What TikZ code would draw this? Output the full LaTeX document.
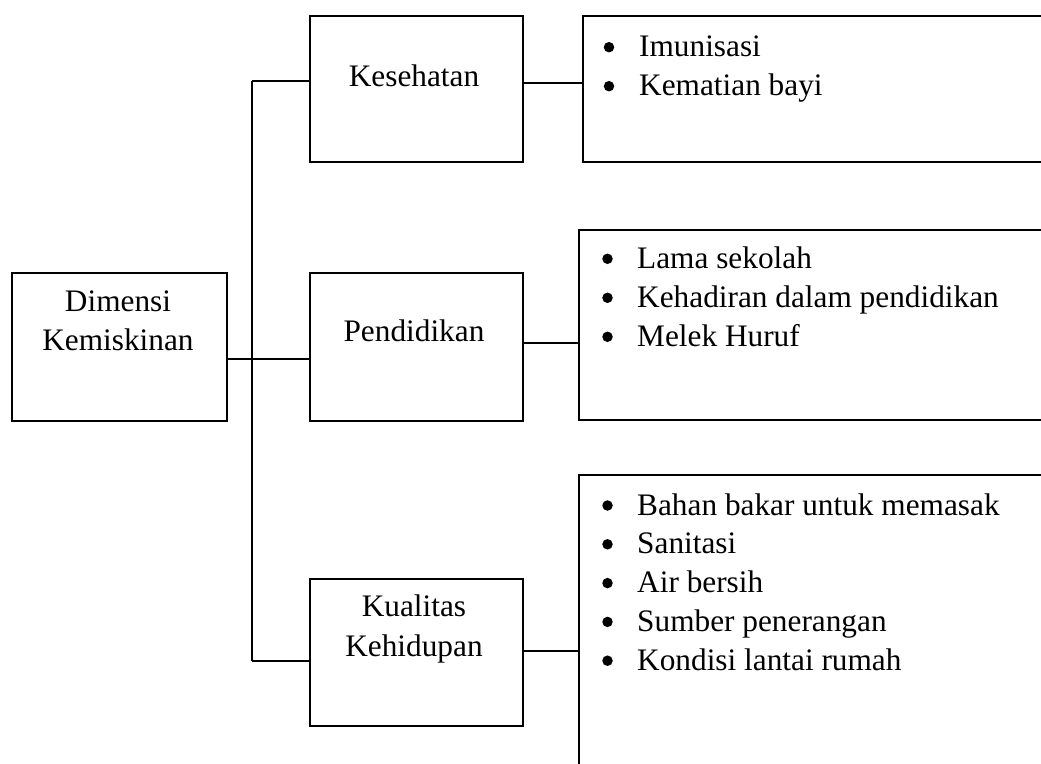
\documentclass[tikz,border=0pt]{standalone}
\usepackage{fontspec}
\setmainfont{Liberation Serif}
\begin{document}
\begin{tikzpicture}[x=1pt,y=-1pt,
  box/.style={draw, line width=1.6pt, anchor=north west, inner sep=0pt, outer sep=0pt},
  wire/.style={line width=1.4pt},
  lbl/.style={anchor=base, font=\fontsize{31.3}{38.7}\selectfont, inner sep=0pt},
  item/.style={anchor=base west, font=\fontsize{31.3}{38.7}\selectfont, inner sep=0pt},
  dot/.style={circle, fill, inner sep=0pt, minimum size=10.5pt}]
\useasboundingbox (0,0) rectangle (1041,763);
\clip (0,0) rectangle (1041,763);

% main boxes
\node[box, minimum width=215pt, minimum height=148pt] (dim) at (12,273) {};
\node[box, minimum width=213pt, minimum height=146pt] (kes) at (310,16) {};
\node[box, minimum width=213pt, minimum height=148pt] (pen) at (310,273) {};
\node[box, minimum width=213pt, minimum height=147pt] (kua) at (310,579) {};

% indicator boxes (running off the right edge)
\node[box, minimum width=480pt, minimum height=146pt] (ind1) at (583,16) {};
\node[box, minimum width=480pt, minimum height=190pt] (ind2) at (579,230) {};
\node[box, minimum width=480pt, minimum height=320pt] (ind3) at (579,475) {};

% box captions
\node[lbl] (dimA) at (118,311.7) {Dimensi};
\node[lbl] (dimB) at (118,350) {Kemiskinan};
\node[lbl] (kesA) at (414,86) {Kesehatan};
\node[lbl] (penA) at (414,341.7) {Pendidikan};
\node[lbl] (kuaA) at (414,616.7) {Kualitas};
\node[lbl] (kuaB) at (414,656) {Kehidupan};

% bullet lists
\foreach \t [count=\i] in {Imunisasi, Kematian bayi} {
  \node[item] (a\i) at (639,{56.7+(\i-1)*39}) {\t};
  \node[dot] (ad\i) at (609,{56.7+(\i-1)*39-9.5}) {};
}
\foreach \t [count=\i] in {Lama sekolah, Kehadiran dalam pendidikan, Melek Huruf} {
  \node[item] (b\i) at (637,{268.3+(\i-1)*39}) {\t};
  \node[dot] (bd\i) at (607.5,{268.3+(\i-1)*39-9.5}) {};
}
\foreach \t [count=\i] in {Bahan bakar untuk memasak, Sanitasi, Air bersih, Sumber penerangan, Kondisi lantai rumah} {
  \node[item] (c\i) at (637,{515+(\i-1)*38.8}) {\t};
  \node[dot] (cd\i) at (607.5,{515+(\i-1)*38.8-9.5}) {};
}

% trunk and branches
\coordinate (ttop) at (252,81);
\coordinate (tbot) at (252,661);
\draw[wire] (ttop) -- (tbot);
\draw[wire] (ttop) -- (ttop -| kes.west);
\draw[wire] (tbot) -- (tbot -| kua.west);
\coordinate (mid) at (252,359);
\draw[wire] (mid -| dim.east) -- (mid -| pen.west);

% links to indicator boxes
\coordinate (l1) at (550,83);
\coordinate (l2) at (550,343);
\coordinate (l3) at (550,651);
\draw[wire] (l1 -| kes.east) -- (l1 -| ind1.west);
\draw[wire] (l2 -| pen.east) -- (l2 -| ind2.west);
\draw[wire] (l3 -| kua.east) -- (l3 -| ind3.west);
\end{tikzpicture}
\end{document}
